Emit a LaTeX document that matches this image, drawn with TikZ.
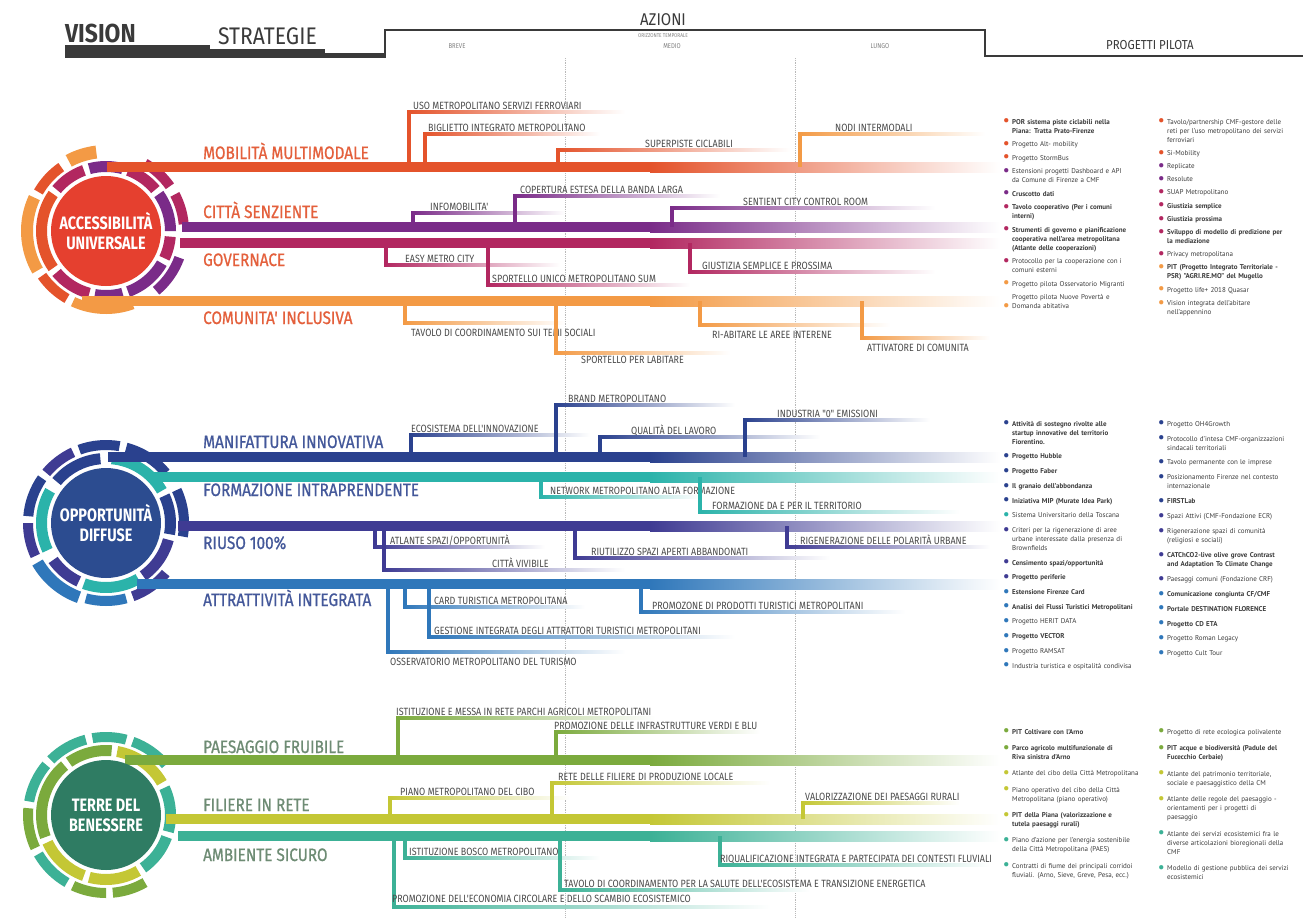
\documentclass[tikz,border=0pt]{standalone}
\usepackage{fontspec}
\setmainfont{PT Sans}
\newfontfamily\headfont{Fira Sans}[FakeStretch=0.88]
\newfontfamily\lanefont{Fira Sans}[FakeStretch=0.85, FakeBold=0.8]
\newfontfamily\branchfont{Fira Sans}[FakeStretch=0.85]
\newfontfamily\discfont{Fira Sans}[FakeStretch=0.8]
\usetikzlibrary{positioning}

% colours of the three visions
\definecolor{headgray}{HTML}{3A3A3A}
\definecolor{branchgray}{HTML}{4A4A4A}
\definecolor{listgray}{HTML}{3C3C3C}
\definecolor{mobred}{HTML}{E4532B}
\definecolor{citpurple}{HTML}{7A2B88}
\definecolor{govcrimson}{HTML}{B22760}
\definecolor{comorange}{HTML}{F39A45}
\definecolor{accred}{HTML}{E5402F}
\definecolor{acclabel}{HTML}{E4603C}
\definecolor{manblue}{HTML}{2A418E}
\definecolor{forteal}{HTML}{2BB3AA}
\definecolor{riuindigo}{HTML}{3F3B93}
\definecolor{attblue}{HTML}{2F77BA}
\definecolor{oppblue}{HTML}{2C4C90}
\definecolor{opplabel}{HTML}{44589A}
\definecolor{paegreen}{HTML}{7BAA3D}
\definecolor{filyellow}{HTML}{C4C735}
\definecolor{ambteal}{HTML}{3CB196}
\definecolor{terdark}{HTML}{2F7C63}
\definecolor{terlabel}{HTML}{6E8C74}

% one pilot project, with its coloured dot
\newcommand{\dotb}[1]{\leavevmode\llap{\smash{\textcolor{#1}{\raisebox{-0.5ex}{\scalebox{2.2}{\textbullet}}}}\hspace{2.5pt}}}
\newcommand{\pit}[2]{\dotb{#1}#2\par}
% one ring segment (inside a shifted scope)
\newcommand{\ringseg}[5]{\fill[#5] (#1:#3) arc (#1:#2:#3) -- (#2:#4) arc (#2:#1:#4) -- cycle;}

\begin{document}
\begin{tikzpicture}[x=1pt, y=-1pt,
    lanelabel/.style={anchor=base west, inner sep=0pt, font=\lanefont\fontsize{18}{18}\selectfont},
    branchlabel/.style={anchor=base west, inner sep=0pt, font=\branchfont\fontsize{10.5}{10.5}\selectfont, text=branchgray},
    disc/.style={circle, minimum size=110, inner sep=0pt, text=white, align=center, font=\discfont\bfseries\fontsize{18}{20}\selectfont},
    plist/.style={anchor=north west, inner sep=0pt, text width=170pt, align=left, text=listgray,
        font=\fontsize{7}{9}\selectfont, execute at begin node={\setlength{\parskip}{#1}}},
    tinyhead/.style={font=\branchfont\fontsize{7}{7}\selectfont, text=gray},
    divider/.style={gray!55, densely dotted, line width=0.8pt},
]
\useasboundingbox (0,0) rectangle (1303,918);
\fill[white] (0,0) rectangle (1303,918);

% time dividers
\draw[divider] (565,58) -- (565,918);
\draw[divider] (795,58) -- (795,918);

% header
\node[anchor=base west, inner sep=0pt, font=\headfont\bfseries\fontsize{26}{26}\selectfont, text=headgray] (vision) at (65,42) {VISION};
\node[anchor=base west, inner sep=0pt, font=\headfont\fontsize{24}{24}\selectfont, text=headgray] (strategie) at (218,44) {STRATEGIE};
\fill[headgray] (65,45) rectangle (210,58);
\fill[headgray] (210,49) rectangle (325,58);
\fill[headgray] (325,53) rectangle (386,58);
\draw[headgray, line width=2.2] (385,58) |- (985,30) |- (1303,56);
\node[anchor=base, font=\headfont\fontsize{17}{17}\selectfont, text=headgray] (azioni) at (663,25) {AZIONI};
\node[tinyhead, font=\branchfont\fontsize{5.5}{5.5}\selectfont] (orizzonte) at (663,36) {ORIZZONTE TEMPORALE};
\node[tinyhead] (breve) at (457,46) {BREVE};
\node[tinyhead] (medio) at (672,46) {MEDIO};
\node[tinyhead] (lungo) at (880,46) {LUNGO};
\node[font=\headfont\fontsize{13}{13}\selectfont, text=headgray] (pilota) at (1150,45) {PROGETTI PILOTA};

%%%%% ACCESSIBILITA' UNIVERSALE
\begin{scope}[shift={(106,231)}, yscale=-1]
    \foreach \a/\b/\ri/\ro/\c in {0/35/59/70/citpurple, 40/70/59/70/govcrimson, 75/105/59/70/citpurple,
        110/140/59/70/govcrimson, 145/215/59/70/mobred, 220/255/59/70/govcrimson, 260/285/59/70/citpurple,
        290/330/59/70/citpurple, 335/355/59/70/govcrimson,
        5/28/73/83/govcrimson, 35/60/73/83/govcrimson, 97/118/73/86/comorange, 125/150/73/83/mobred,
        155/210/73/85/comorange, 215/240/73/83/mobred, 245/290/73/83/comorange, 310/340/73/83/citpurple}
        {\ringseg{\a}{\b}{\ri}{\ro}{\c}}
\end{scope}
\foreach \xs/\y/\c/\ly/\n/\t in {107/167/mobred/159/mobilita/{MOBILITÀ MULTIMODALE},
    182/227/citpurple/218/citta/{CITTÀ SENZIENTE}, 180/243/govcrimson/266/governace/GOVERNACE,
    82/301/comorange/324/comunita/{COMUNITA' INCLUSIVA}}{
    \fill[\c] (\xs,\y-5) rectangle (650,\y+5);
    \shade[left color=\c, right color=white] (650,\y-5) rectangle (1000,\y+5);
    \node[lanelabel, text=acclabel] (\n) at (203,\ly) {\t};
}
\node[disc, fill=accred] (accessibilita) at (106,231) {ACCESSIBILITÀ\\UNIVERSALE};

%%%%% OPPORTUNITA' DIFFUSE
\begin{scope}[shift={(106,523)}, yscale=-1]
    \foreach \a/\b/\ri/\ro/\c in {30/85/59/70/forteal, 95/140/59/70/manblue, 150/205/59/70/forteal,
        215/245/59/70/riuindigo, 250/300/59/70/forteal, 305/345/59/70/riuindigo, 350/385/59/70/manblue,
        -10/25/73/83/manblue, 40/75/73/83/manblue, 80/110/73/83/manblue, 115/140/73/83/riuindigo,
        145/175/73/83/manblue, 180/205/73/83/riuindigo, 210/250/73/85/attblue, 255/285/73/83/attblue,
        290/320/73/83/riuindigo}
        {\ringseg{\a}{\b}{\ri}{\ro}{\c}}
\end{scope}
\foreach \xs/\y/\c/\ly/\n/\t in {108/457/manblue/448/manifattura/{MANIFATTURA INNOVATIVA},
    150/477/forteal/496/formazione/{FORMAZIONE INTRAPRENDENTE}, 178/526/riuindigo/549/riuso/{RIUSO 100\%},
    137/584/attblue/606/attrattivita/{ATTRATTIVITÀ INTEGRATA}}{
    \fill[\c] (\xs,\y-5) rectangle (650,\y+5);
    \shade[left color=\c, right color=white] (650,\y-5) rectangle (1000,\y+5);
    \node[lanelabel, text=opplabel] (\n) at (203,\ly) {\t};
}
\node[disc, fill=oppblue] (opportunita) at (106,523) {OPPORTUNITÀ\\DIFFUSE};

%%%%% TERRE DEL BENESSERE
\begin{scope}[shift={(106,815)}, yscale=-1]
    \foreach \a/\b/\ri/\ro/\c in {30/80/59/70/filyellow, 85/125/59/70/paegreen, 130/200/59/70/paegreen,
        205/250/59/70/filyellow, 255/300/59/70/filyellow, 305/340/59/70/ambteal, 345/385/59/70/ambteal,
        40/70/73/83/ambteal, 75/100/73/83/ambteal, 105/135/73/83/ambteal, 140/170/73/83/ambteal,
        175/205/73/83/paegreen, 210/240/73/83/ambteal, 245/270/73/83/paegreen, 275/300/73/83/paegreen}
        {\ringseg{\a}{\b}{\ri}{\ro}{\c}}
\end{scope}
\foreach \xs/\y/\c/\ly/\n/\t in {125/760/paegreen/753/paesaggio/{PAESAGGIO FRUIBILE},
    166/819/filyellow/811/filiere/{FILIERE IN RETE}, 178/836/ambteal/861/ambiente/{AMBIENTE SICURO}}{
    \fill[\c] (\xs,\y-5) rectangle (650,\y+5);
    \shade[left color=\c, right color=white] (650,\y-5) rectangle (1000,\y+5);
    \node[lanelabel, text=terlabel] (\n) at (203,\ly) {\t};
}
\node[disc, fill=terdark] (terre) at (106,815) {TERRE DEL\\BENESSERE};

% actions: vertical from the lane, then a fading line with its label
\foreach \xv/\yb/\yh/\xe/\c/\xl/\yl/\t [count=\i] in {
    409/167/112/625/mobred/413/109/{USO METROPOLITANO SERVIZI FERROVIARI},
    425/167/134/600/mobred/428/131/{BIGLIETTO INTEGRATO METROPOLITANO},
    558/167/150/790/mobred/645/147/{SUPERPISTE CICLABILI},
    800/167/134/985/comorange/835/131/{NODI INTERMODALI},
    413/227/213/565/citpurple/430/210/{INFOMOBILITA'},
    515/227/196/720/citpurple/520/193/{COPERTURA ESTESA DELLA BANDA LARGA},
    672/227/208/935/citpurple/743/205/{SENTIENT CITY CONTROL ROOM},
    386/243/265/560/govcrimson/405/262/{EASY METRO CITY},
    488/243/285/690/govcrimson/492/282/{SPORTELLO UNICO METROPOLITANO SUM},
    690/243/272/935/govcrimson/702/269/{GIUSTIZIA SEMPLICE E PROSSIMA},
    405/301/323/565/comorange/411/336/{TAVOLO DI COORDINAMENTO SUI TEMI SOCIALI},
    556/301/353/730/comorange/581/363/{SPORTELLO PER LABITARE},
    700/301/325/890/comorange/712/338/{RI-ABITARE LE AREE INTERENE},
    862/301/338/990/comorange/867/351/{ATTIVATORE DI COMUNITA},
    411/457/435/590/manblue/411/432/{ECOSISTEMA DELL'INNOVAZIONE},
    556/457/405/735/manblue/568/402/{BRAND METROPOLITANO},
    600/457/437/820/manblue/631/434/{QUALITÀ DEL LAVORO},
    745/457/420/930/manblue/777/417/{INDUSTRIA "0" EMISSIONI},
    541/477/497/700/forteal/550/494/{NETWORK METROPOLITANO ALTA FORMAZIONE},
    700/477/512/960/forteal/712/509/{FORMAZIONE DA E PER IL TERRITORIO},
    375/526/547/545/riuindigo/390/544/{ATLANTE SPAZI/OPPORTUNITÀ},
    384/526/570/625/riuindigo/492/567/{CITTÀ VIVIBILE},
    575/526/558/830/riuindigo/591/555/{RIUTILIZZO SPAZI APERTI ABBANDONATI},
    787/526/547/990/riuindigo/800/544/{RIGENERAZIONE DELLE POLARITÀ URBANE},
    388/584/652/625/attblue/390/665/{OSSERVATORIO METROPOLITANO DEL TURISMO},
    405/584/607/585/attblue/434/604/{CARD TURISTICA METROPOLITANA},
    429/584/637/735/attblue/434/634/{GESTIONE INTEGRATA DEGLI ATTRATTORI TURISTICI METROPOLITANI},
    641/584/612/905/attblue/652/609/{PROMOZONE DI PRODOTTI TURISTICI METROPOLITANI},
    398/760/718/655/paegreen/396/715/{ISTITUZIONE E MESSA IN RETE PARCHI AGRICOLI METROPOLITANI},
    556/760/732/760/paegreen/554/729/{PROMOZIONE DELLE INFRASTRUTTURE VERDI E BLU},
    390/819/798/570/filyellow/400/795/{PIANO METROPOLITANO DEL CIBO},
    552/819/783/770/filyellow/558/780/{RETE DELLE FILIERE DI PRODUZIONE LOCALE},
    803/819/803/960/filyellow/805/800/{VALORIZZAZIONE DEI PAESAGGI RURALI},
    405/836/858/600/ambteal/409/855/{ISTITUZIONE BOSCO METROPOLITANO},
    720/836/865/990/ambteal/720/862/{RIQUALIFICAZIONE INTEGRATA E PARTECIPATA DEI CONTESTI FLUVIALI},
    560/836/890/810/ambteal/564/887/{TAVOLO DI COORDINAMENTO PER LA SALUTE DELL'ECOSISTEMA E TRANSIZIONE ENERGETICA},
    394/836/907/770/ambteal/392/902/{PROMOZIONE DELL'ECONOMIA CIRCOLARE E DELLO SCAMBIO ECOSISTEMICO}}{
    \fill[\c] (\xv-1.9,\yb) rectangle (\xv+1.9,\yh);
    \shade[left color=\c, middle color=\c!85!white, right color=white] (\xv-1.9,\yh-1.9) rectangle (\xe,\yh+1.9);
    \node[branchlabel] (azione\i) at (\xl,\yl) {\t};
}

% pilot projects
\node[plist=4.5pt] (pilotiacc1) at (1012,119) {%
\pit{mobred}{\textbf{POR sistema piste ciclabili nella\\Piana: Tratta Prato-Firenze}}
\pit{mobred}{Progetto Alt- mobility}
\pit{mobred}{Progetto StormBus}
\pit{citpurple}{Estensioni progetti Dashboard e API\\da Comune di Firenze a CMF}
\pit{citpurple}{\textbf{Cruscotto dati}}
\pit{govcrimson}{\textbf{Tavolo cooperativo (Per i comuni\\interni)}}
\pit{govcrimson}{\textbf{Strumenti di governo e pianificazione\\cooperativa nell'area metropolitana\\(Atlante delle cooperazioni)}}
\pit{govcrimson}{Protocollo per la cooperazione con i\\comuni esterni}
\pit{comorange}{Progetto pilota Osservatorio Migranti}
Progetto pilota Nuove Povertà e\\\dotb{comorange}Domanda abitativa\par};
\node[plist=4.2pt] (pilotiacc2) at (1167,119) {%
\pit{mobred}{Tavolo/partnership CMF-gestore delle\\reti per l'uso metropolitano dei servizi\\ferroviari}
\pit{mobred}{Si-Mobility}
\pit{citpurple}{Replicate}
\pit{citpurple}{Resolute}
\pit{govcrimson}{SUAP Metropolitano}
\pit{govcrimson}{\textbf{Giustizia semplice}}
\pit{govcrimson}{\textbf{Giustizia prossima}}
\pit{govcrimson}{\textbf{Sviluppo di modello di predizione per\\la mediazione}}
\pit{govcrimson}{Privacy metropolitana}
\pit{comorange}{\textbf{PIT (Progetto Integrato Territoriale -\\PSR) "AGRI.RE.MO" del Mugello}}
\pit{comorange}{Progetto life+ 2018 Quasar}
\pit{comorange}{Vision integrata dell'abitare\\nell'appennino}};

\node[plist=5.7pt] (pilotiopp1) at (1012,421) {%
\pit{manblue}{\textbf{Attività di sostegno rivolte alle\\startup innovative del territorio\\Fiorentino.}}
\pit{manblue}{\textbf{Progetto Hubble}}
\pit{manblue}{\textbf{Progetto Faber}}
\pit{manblue}{\textbf{Il granaio dell'abbondanza}}
\pit{manblue}{\textbf{Iniziativa MIP (Murate Idea Park)}}
\pit{forteal}{Sistema Universitario della Toscana}
\pit{riuindigo}{Criteri per la rigenerazione di aree\\urbane interessate dalla presenza di\\Brownfields}
\pit{riuindigo}{\textbf{Censimento spazi/opportunità}}
\pit{riuindigo}{\textbf{Progetto periferie}}
\pit{attblue}{\textbf{Estensione Firenze Card}}
\pit{attblue}{\textbf{Analisi dei Flussi Turistici Metropolitani}}
\pit{attblue}{Progetto HERIT DATA}
\pit{attblue}{\textbf{Progetto VECTOR}}
\pit{attblue}{Progetto RAMSAT}
\pit{attblue}{Industria turistica e ospitalità condivisa}};
\node[plist=5.9pt] (pilotiopp2) at (1167,421) {%
\pit{manblue}{Progetto OH4Growth}
\pit{manblue}{Protocollo d'intesa CMF-organizzazioni\\sindacali territoriali}
\pit{manblue}{Tavolo permanente con le imprese}
\pit{manblue}{Posizionamento Firenze nel contesto\\internazionale}
\pit{manblue}{\textbf{FIRSTLab}}
\pit{riuindigo}{Spazi Attivi (CMF-Fondazione ECR)}
\pit{riuindigo}{Rigenerazione spazi di comunità\\(religiosi e sociali)}
\pit{riuindigo}{\textbf{CATChCO2-live olive grove Contrast\\and Adaptation To Climate Change}}
\pit{riuindigo}{Paesaggi comuni (Fondazione CRF)}
\pit{attblue}{\textbf{Comunicazione congiunta CF/CMF}}
\pit{attblue}{\textbf{Portale DESTINATION FLORENCE}}
\pit{attblue}{\textbf{Progetto CD ETA}}
\pit{attblue}{Progetto Roman Legacy}
\pit{attblue}{Progetto Cult Tour}};

\node[plist=7.3pt] (pilotiter1) at (1012,729) {%
\pit{paegreen}{\textbf{PIT Coltivare con l'Arno}}
\pit{paegreen}{\textbf{Parco agricolo multifunzionale di\\Riva sinistra d'Arno}}
\pit{filyellow}{Atlante del cibo della Città Metropolitana}
\pit{filyellow}{Piano operativo del cibo della Città\\Metropolitana (piano operativo)}
\pit{filyellow}{\textbf{PIT della Piana (valorizzazione e\\tutela paesaggi rurali)}}
\pit{ambteal}{Piano d'azione per l'energia sostenibile\\della Città Metropolitana (PAES)}
\pit{ambteal}{Contratti di fiume dei principali corridoi\\fluviali. (Arno, Sieve, Greve, Pesa, ecc.)}};
\node[plist=7.5pt] (pilotiter2) at (1167,729) {%
\pit{paegreen}{Progetto di rete ecologica polivalente}
\pit{paegreen}{\textbf{PIT acque e biodiversità (Padule del\\Fucecchio Cerbaie)}}
\pit{filyellow}{Atlante del patrimonio territoriale,\\sociale e paesaggistico della CM}
\pit{filyellow}{Atlante delle regole del paesaggio -\\orientamenti per i progetti di\\paesaggio}
\pit{ambteal}{Atlante dei servizi ecosistemici fra le\\diverse articolazioni bioregionali della\\CMF}
\pit{ambteal}{Modello di gestione pubblica dei servizi\\ecosistemici}};
\end{tikzpicture}
\end{document}
